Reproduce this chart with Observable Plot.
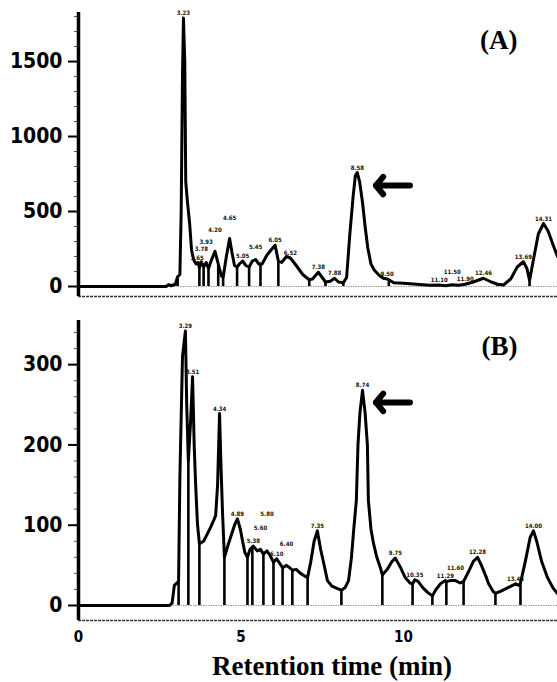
<!DOCTYPE html>
<html>
<head>
<meta charset="utf-8">
<script src="https://cdn.jsdelivr.net/npm/d3@7"></script>
<script src="https://cdn.jsdelivr.net/npm/@observablehq/plot@0.6"></script>
<style>
  html, body { margin: 0; padding: 0; background: #fff; }
  #wrap { position: relative; width: 557px; height: 682px; overflow: hidden; }
  #wrap svg { position: absolute; left: 0; overflow: visible; }
  #title { position: absolute; left: 212px; top: 653px; font: bold 27px "Liberation Serif", "Times New Roman", serif; line-height: 1; white-space: nowrap; }
</style>
</head>
<body>
<div id="wrap"><div id="title">Retention time (min)</div></div>
<script>
// ---- Panel A: retention time (min) and detector signal ----
const timeA = [0, 2.7, 2.77, 2.85, 2.98, 3.05, 3.12, 3.16, 3.2, 3.23, 3.27, 3.3, 3.35, 3.42, 3.48, 3.55, 3.62, 3.68, 3.72, 3.78, 3.85, 3.93, 4.0, 4.08, 4.2, 4.3, 4.4, 4.45, 4.55, 4.65, 4.72, 4.8, 4.88, 4.95, 5.05, 5.15, 5.25, 5.35, 5.45, 5.55, 5.65, 5.8, 5.95, 6.05, 6.15, 6.25, 6.4, 6.52, 6.7, 6.9, 7.1, 7.2, 7.38, 7.5, 7.6, 7.75, 7.88, 8.0, 8.15, 8.25, 8.35, 8.45, 8.52, 8.58, 8.65, 8.74, 8.82, 8.9, 9.0, 9.1, 9.25, 9.38, 9.5, 9.55, 9.7, 10.0, 10.4, 10.8, 11.1, 11.3, 11.5, 11.7, 11.9, 12.15, 12.46, 12.7, 12.9, 13.08, 13.3, 13.5, 13.69, 13.8, 13.88, 14.0, 14.15, 14.31, 14.45, 14.6, 14.74];
const signalA = [0, 0, 12, 5, 15, 65, 80, 500, 1400, 1790, 1500, 700, 570, 420, 240, 175, 150, 160, 125, 165, 130, 160, 120, 170, 235, 150, 70, 60, 200, 320, 230, 140, 130, 150, 170, 140, 130, 170, 180, 150, 150, 210, 250, 275, 170, 160, 200, 190, 140, 80, 45, 50, 95, 60, 30, 35, 55, 30, 25, 60, 350, 600, 740, 760, 700, 560, 400, 260, 150, 110, 75, 55, 50, 45, 25, 22, 15, 8, 10, 5, 12, 8, 15, 30, 55, 30, 15, 10, 50, 130, 165, 120, 40, 180, 350, 420, 370, 280, 200];
const dropA = [3.05, 3.72, 3.85, 4.0, 4.3, 4.45, 4.88, 5.25, 5.6, 6.15, 7.1, 7.6, 8.15, 9.55, 11.1, 11.3, 11.7, 12.9, 13.88];
const peakA = [3.23, 3.65, 3.78, 3.93, 4.2, 4.65, 5.05, 5.45, 6.05, 6.52, 7.38, 7.88, 8.58, 9.5, 11.1, 11.5, 11.9, 12.46, 13.69, 14.31];
const yTicksA = [0, 500, 1000, 1500];
const yMinorA = d3.range(0, 1801, 100);

// ---- Panel B ----
const timeB = [0, 2.8, 2.88, 2.95, 3.08, 3.12, 3.2, 3.29, 3.33, 3.38, 3.45, 3.51, 3.56, 3.6, 3.66, 3.72, 3.85, 3.95, 4.06, 4.15, 4.22, 4.28, 4.34, 4.38, 4.43, 4.49, 4.6, 4.68, 4.8, 4.89, 4.98, 5.05, 5.12, 5.2, 5.28, 5.38, 5.5, 5.6, 5.69, 5.8, 5.9, 6.0, 6.1, 6.2, 6.28, 6.4, 6.5, 6.58, 6.7, 6.83, 6.95, 7.05, 7.15, 7.25, 7.35, 7.45, 7.55, 7.66, 7.8, 7.97, 8.09, 8.2, 8.31, 8.4, 8.46, 8.55, 8.6, 8.66, 8.74, 8.82, 8.89, 8.92, 9.0, 9.08, 9.18, 9.29, 9.35, 9.5, 9.65, 9.75, 9.9, 10.05, 10.2, 10.28, 10.35, 10.45, 10.6, 10.75, 10.89, 11.0, 11.14, 11.29, 11.32, 11.45, 11.6, 11.75, 11.85, 12.0, 12.15, 12.28, 12.4, 12.55, 12.62, 12.75, 12.83, 13.0, 13.2, 13.45, 13.55, 13.6, 13.75, 13.9, 14.0, 14.1, 14.25, 14.43, 14.6, 14.74];
const signalB = [0, 0, 3, 25, 30, 160, 310, 342, 250, 180, 230, 285, 200, 155, 102, 77, 80, 88, 97, 105, 112, 150, 239, 180, 118, 60, 75, 85, 100, 108, 95, 80, 66, 60, 70, 74, 68, 70, 64, 68, 62, 54, 58, 52, 47, 50, 47, 44, 45, 40, 37, 35, 55, 80, 93, 70, 52, 31, 24, 21, 19, 22, 31, 60, 90, 131, 200, 240, 268, 240, 200, 131, 95, 77, 60, 47, 38, 45, 55, 59, 48, 35, 28, 27, 32, 30, 22, 16, 12, 20, 27, 31, 30, 31, 31, 28, 30, 42, 55, 60, 50, 35, 27, 18, 15, 18, 22, 27, 25, 28, 55, 85, 93, 80, 55, 35, 22, 15];
const dropB = [3.08, 3.38, 3.72, 4.49, 5.2, 5.35, 5.69, 6.0, 6.28, 6.58, 7.05, 8.09, 9.35, 10.28, 10.89, 11.32, 11.85, 12.83, 13.6];
const peakB = [3.29, 3.51, 4.34, 4.89, 5.38, 5.6, 5.8, 6.1, 6.4, 7.35, 8.74, 9.75, 10.35, 11.29, 11.6, 12.28, 13.45, 14.0];
const yTicksB = [0, 100, 200, 300];
const yMinorB = d3.range(0, 341, 20);
const xTicks = [0, 5, 10];

const xDomain = [0, 14.74];
const sans = "'DejaVu Sans Condensed', 'DejaVu Sans', sans-serif";
const serif = "'Liberation Serif', 'Times New Roman', serif";

function valueAt(ts, vs, t) {
  const i = d3.bisectLeft(ts, t);
  if (i <= 0) return vs[0];
  if (i >= ts.length) return vs[vs.length - 1];
  if (ts[i] === t) return vs[i];
  const t0 = ts[i - 1], t1 = ts[i];
  return vs[i - 1] + (vs[i] - vs[i - 1]) * (t - t0) / (t1 - t0);
}

// stack labels of nearby peaks so that their boxes do not collide
function placeLabels(peaks, times, signals, xs, ys) {
  const placed = [];
  const W = 15, H = 7, STEP = 8;
  return peaks.map(t => {
    const px = xs(t), py = ys(valueAt(times, signals, t));
    let level = 0;
    for (; level < 8; level++) {
      const bottom = py - 3 - level * STEP, top = bottom - H;
      const hit = placed.some(b => px - W / 2 < b.x2 && px + W / 2 > b.x1 && top < b.y2 && bottom > b.y1);
      if (!hit) { placed.push({x1: px - W / 2, x2: px + W / 2, y1: top, y2: bottom}); break; }
    }
    return {t, dy: -3 - level * STEP};
  });
}

function panel({times, signals, drops, peaks, yTicks, yMinor, yDomain, height, marginTop, marginBottom, tag, arrowY, tagDy, showX}) {
  const pts = times.map((t, i) => ({t, v: signals[i]}));
  const xs = d3.scaleLinear(xDomain, [78, 557]);
  const ys = d3.scaleLinear(yDomain, [height - marginBottom, marginTop]);
  const labels = placeLabels(peaks, times, signals, xs, ys);
  const dys = Array.from(new Set(labels.map(d => d.dy)));
  const marks = [
    Plot.ruleY([0], {stroke: "#999", strokeWidth: 1.2, strokeDasharray: "1.5,1"}),
    Plot.ruleY([yDomain[0]], {stroke: "#333", strokeWidth: 1.6, strokeDasharray: "3,1"}),
    Plot.ruleX(drops, {x: d => d, y1: 0, y2: d => valueAt(times, signals, d), stroke: "#000", strokeWidth: 2.6}),
    Plot.line(pts, {x: "t", y: "v", stroke: "#000", strokeWidth: 3, strokeLinejoin: "round"}),
    ...dys.map(dy => Plot.text(labels.filter(d => d.dy === dy), {x: "t", y: d => valueAt(times, signals, d.t), text: d => d.t.toFixed(2), dy, lineAnchor: "bottom", fontSize: 6, fontWeight: "bold", fill: "#111", fontFamily: sans})),
    Plot.arrow([0], {x1: 10.2, x2: 9.15, y1: arrowY, y2: arrowY, stroke: "#000", strokeWidth: 6, headLength: 10, headAngle: 100}),
    Plot.text([tag], {frameAnchor: "top-right", dx: -40, dy: tagDy, lineAnchor: "middle", fontSize: 27, fontWeight: "bold", fontFamily: serif, fill: "#000"}),
    Plot.axisY(yMinor, {tickSize: 4, tickFormat: () => "", label: null, stroke: "#555", strokeWidth: 1}),
    Plot.axisY(yTicks, {tickSize: 10, tickPadding: 6, tickFormat: d3.format("d"), label: null, fontSize: 21, fontWeight: "bold", fontFamily: sans, strokeWidth: 2, fill: "#000"}),
    Plot.ruleX([0], {stroke: "#000", strokeWidth: 3.5})
  ];
  if (showX) marks.push(Plot.axisX(xTicks, {tickSize: 0, tickPadding: 11, label: null, fontSize: 15, fontWeight: "bold", fontFamily: sans, fill: "#000"}));
  return Plot.plot({
    width: 557, height, marginLeft: 78, marginRight: 0, marginTop, marginBottom,
    style: {background: "transparent", overflow: "visible"},
    x: {domain: xDomain, label: null, ...(showX ? {} : {axis: null})},
    y: {domain: yDomain, label: null},
    marks
  });
}

const wrap = document.getElementById("wrap");
const svgA = panel({times: timeA, signals: signalA, drops: dropA, peaks: peakA, yTicks: yTicksA, yMinor: yMinorA,
  yDomain: [-66.7, 1827], height: 300, marginTop: 12, marginBottom: 4, tag: "(A)", arrowY: 673, tagDy: 28, showX: false});
svgA.style.top = "0px";
const svgB = panel({times: timeB, signals: signalB, drops: dropB, peaks: peakB, yTicks: yTicksB, yMinor: yMinorB,
  yDomain: [-18.7, 355], height: 345, marginTop: 20, marginBottom: 25, tag: "(B)", arrowY: 253, tagDy: 26, showX: true});
svgB.style.top = "300px";
wrap.appendChild(svgA);
wrap.appendChild(svgB);
</script>
</body>
</html>
